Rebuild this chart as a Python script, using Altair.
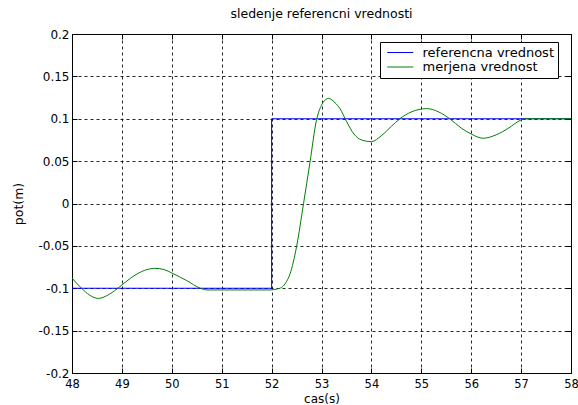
import altair as alt
import pandas as pd

# ---- data ----
series = ["referencna vrednost", "merjena vrednost"]
colors = ["#0000ff", "#008000"]

ref_t = [48.0, 52.0, 52.0, 58.0]
ref_v = [-0.1, -0.1, 0.1, 0.1]

meas_t = [48.0, 48.19, 48.35, 48.53, 48.75, 48.96, 49.2, 49.45, 49.66, 49.85,
          50.0, 50.3, 50.57, 50.7, 51.97, 52.1, 52.2, 52.3, 52.37, 52.5,
          52.64, 52.77, 52.9, 53.0, 53.14, 53.27, 53.37, 53.5, 53.65, 53.8,
          54.0, 54.2, 54.4, 54.57, 54.8, 55.11, 55.35, 55.57, 55.8, 56.0,
          56.24, 56.5, 56.75, 56.98, 57.1, 58.0]
meas_v = [-0.088, -0.100, -0.108, -0.112, -0.107, -0.098, -0.087, -0.079, -0.0765, -0.078,
          -0.082, -0.091, -0.100, -0.102, -0.102, -0.101, -0.099, -0.092, -0.083, -0.051,
          0.0, 0.049, 0.0985, 0.116, 0.124, 0.119, 0.112, 0.097, 0.082, 0.075,
          0.073, 0.080, 0.091, 0.100, 0.108, 0.112, 0.108, 0.100, 0.089, 0.082,
          0.077, 0.081, 0.089, 0.098, 0.100, 0.100]

x_ticks = [48, 49, 50, 51, 52, 53, 54, 55, 56, 57, 58]
y_ticks = [-0.2, -0.15, -0.1, -0.05, 0, 0.05, 0.1, 0.15, 0.2]

ref_df = pd.DataFrame({"t": ref_t, "v": ref_v, "s": series[0], "o": list(range(len(ref_t)))})
meas_df = pd.DataFrame({"t": meas_t, "v": meas_v, "s": series[1], "o": list(range(len(meas_t)))})

W, H = 499, 339
FONT = "DejaVu Sans"

xscale = alt.Scale(domain=[48, 58], nice=False, zero=False)
yscale = alt.Scale(domain=[-0.2, 0.2], nice=False, zero=False)

legend = alt.Legend(
    title=None, orient="none", legendX=308, legendY=8,
    symbolType="M-0.5,0H3.5", symbolSize=169, symbolStrokeWidth=1,
    labelFont=FONT, labelFontSize=13, labelColor="black", labelOffset=25,
    padding=3.5, rowPadding=0.5, strokeColor="black", fillColor="white",
)
color = alt.Color("s:N", scale=alt.Scale(domain=series, range=colors), legend=legend)

minus_fix = "replace(format(datum.value, '~g'), '\u2212', '-')"

x_bottom = alt.Axis(
    orient="bottom", values=x_ticks, format="d", grid=True, gridDash=[3, 3],
    gridColor="#000000", gridOpacity=0.85, domain=False, ticks=True, tickSize=5,
    tickColor="black", offset=-5, labelPadding=5, labelFont=FONT, labelFontSize=11.5,
    labelColor="black", labelFlush=False, labelOverlap=False,
    title="cas(s)", titleFont=FONT, titleFontSize=12, titleFontWeight="normal",
    titleColor="black", titlePadding=4,
)
y_left = alt.Axis(
    orient="left", values=y_ticks, labelExpr=minus_fix, grid=True, gridDash=[3, 3],
    gridColor="#000000", gridOpacity=0.85, domain=False, ticks=True, tickSize=5,
    tickColor="black", offset=-5, labelPadding=3, labelFont=FONT, labelFontSize=12,
    labelColor="black", labelFlush=False, labelOverlap=False,
    title="pot(m)", titleFont=FONT, titleFontSize=12.5, titleFontWeight="normal",
    titleColor="black", titlePadding=12,
)
x_top = alt.Axis(
    orient="top", values=x_ticks, labels=False, grid=False, domain=False,
    ticks=True, tickSize=5, tickColor="black", offset=-5, title=None,
)
y_right = alt.Axis(
    orient="right", values=y_ticks, labels=False, grid=False, domain=False,
    ticks=True, tickSize=5, tickColor="black", offset=-5, title=None,
)

blue = alt.Chart(ref_df).mark_line(strokeWidth=1, interpolate="linear").encode(
    x=alt.X("t:Q", scale=xscale, axis=x_bottom),
    y=alt.Y("v:Q", scale=yscale, axis=y_left),
    color=color,
    order="o:Q",
)

green = alt.Chart(meas_df).mark_line(strokeWidth=1, interpolate="monotone").encode(
    x=alt.X("t:Q", scale=xscale, axis=x_top),
    y=alt.Y("v:Q", scale=yscale, axis=y_right),
    color=color,
    order="o:Q",
)

chart = alt.layer(blue, green).resolve_axis(
    x="independent", y="independent"
).properties(
    width=W, height=H,
    title=alt.TitleParams(
        "sledenje referencni vrednosti", font=FONT, fontSize=12.5,
        fontWeight="normal", color="black", offset=8, anchor="middle",
    ),
    autosize=alt.AutoSizeParams(type="none"),
    padding={"left": 72, "top": 34, "right": 7, "bottom": 32},
    background="white",
).configure_view(stroke="black", strokeWidth=1)

chart.save("out.html", embed_options={"renderer": "svg", "actions": False})
